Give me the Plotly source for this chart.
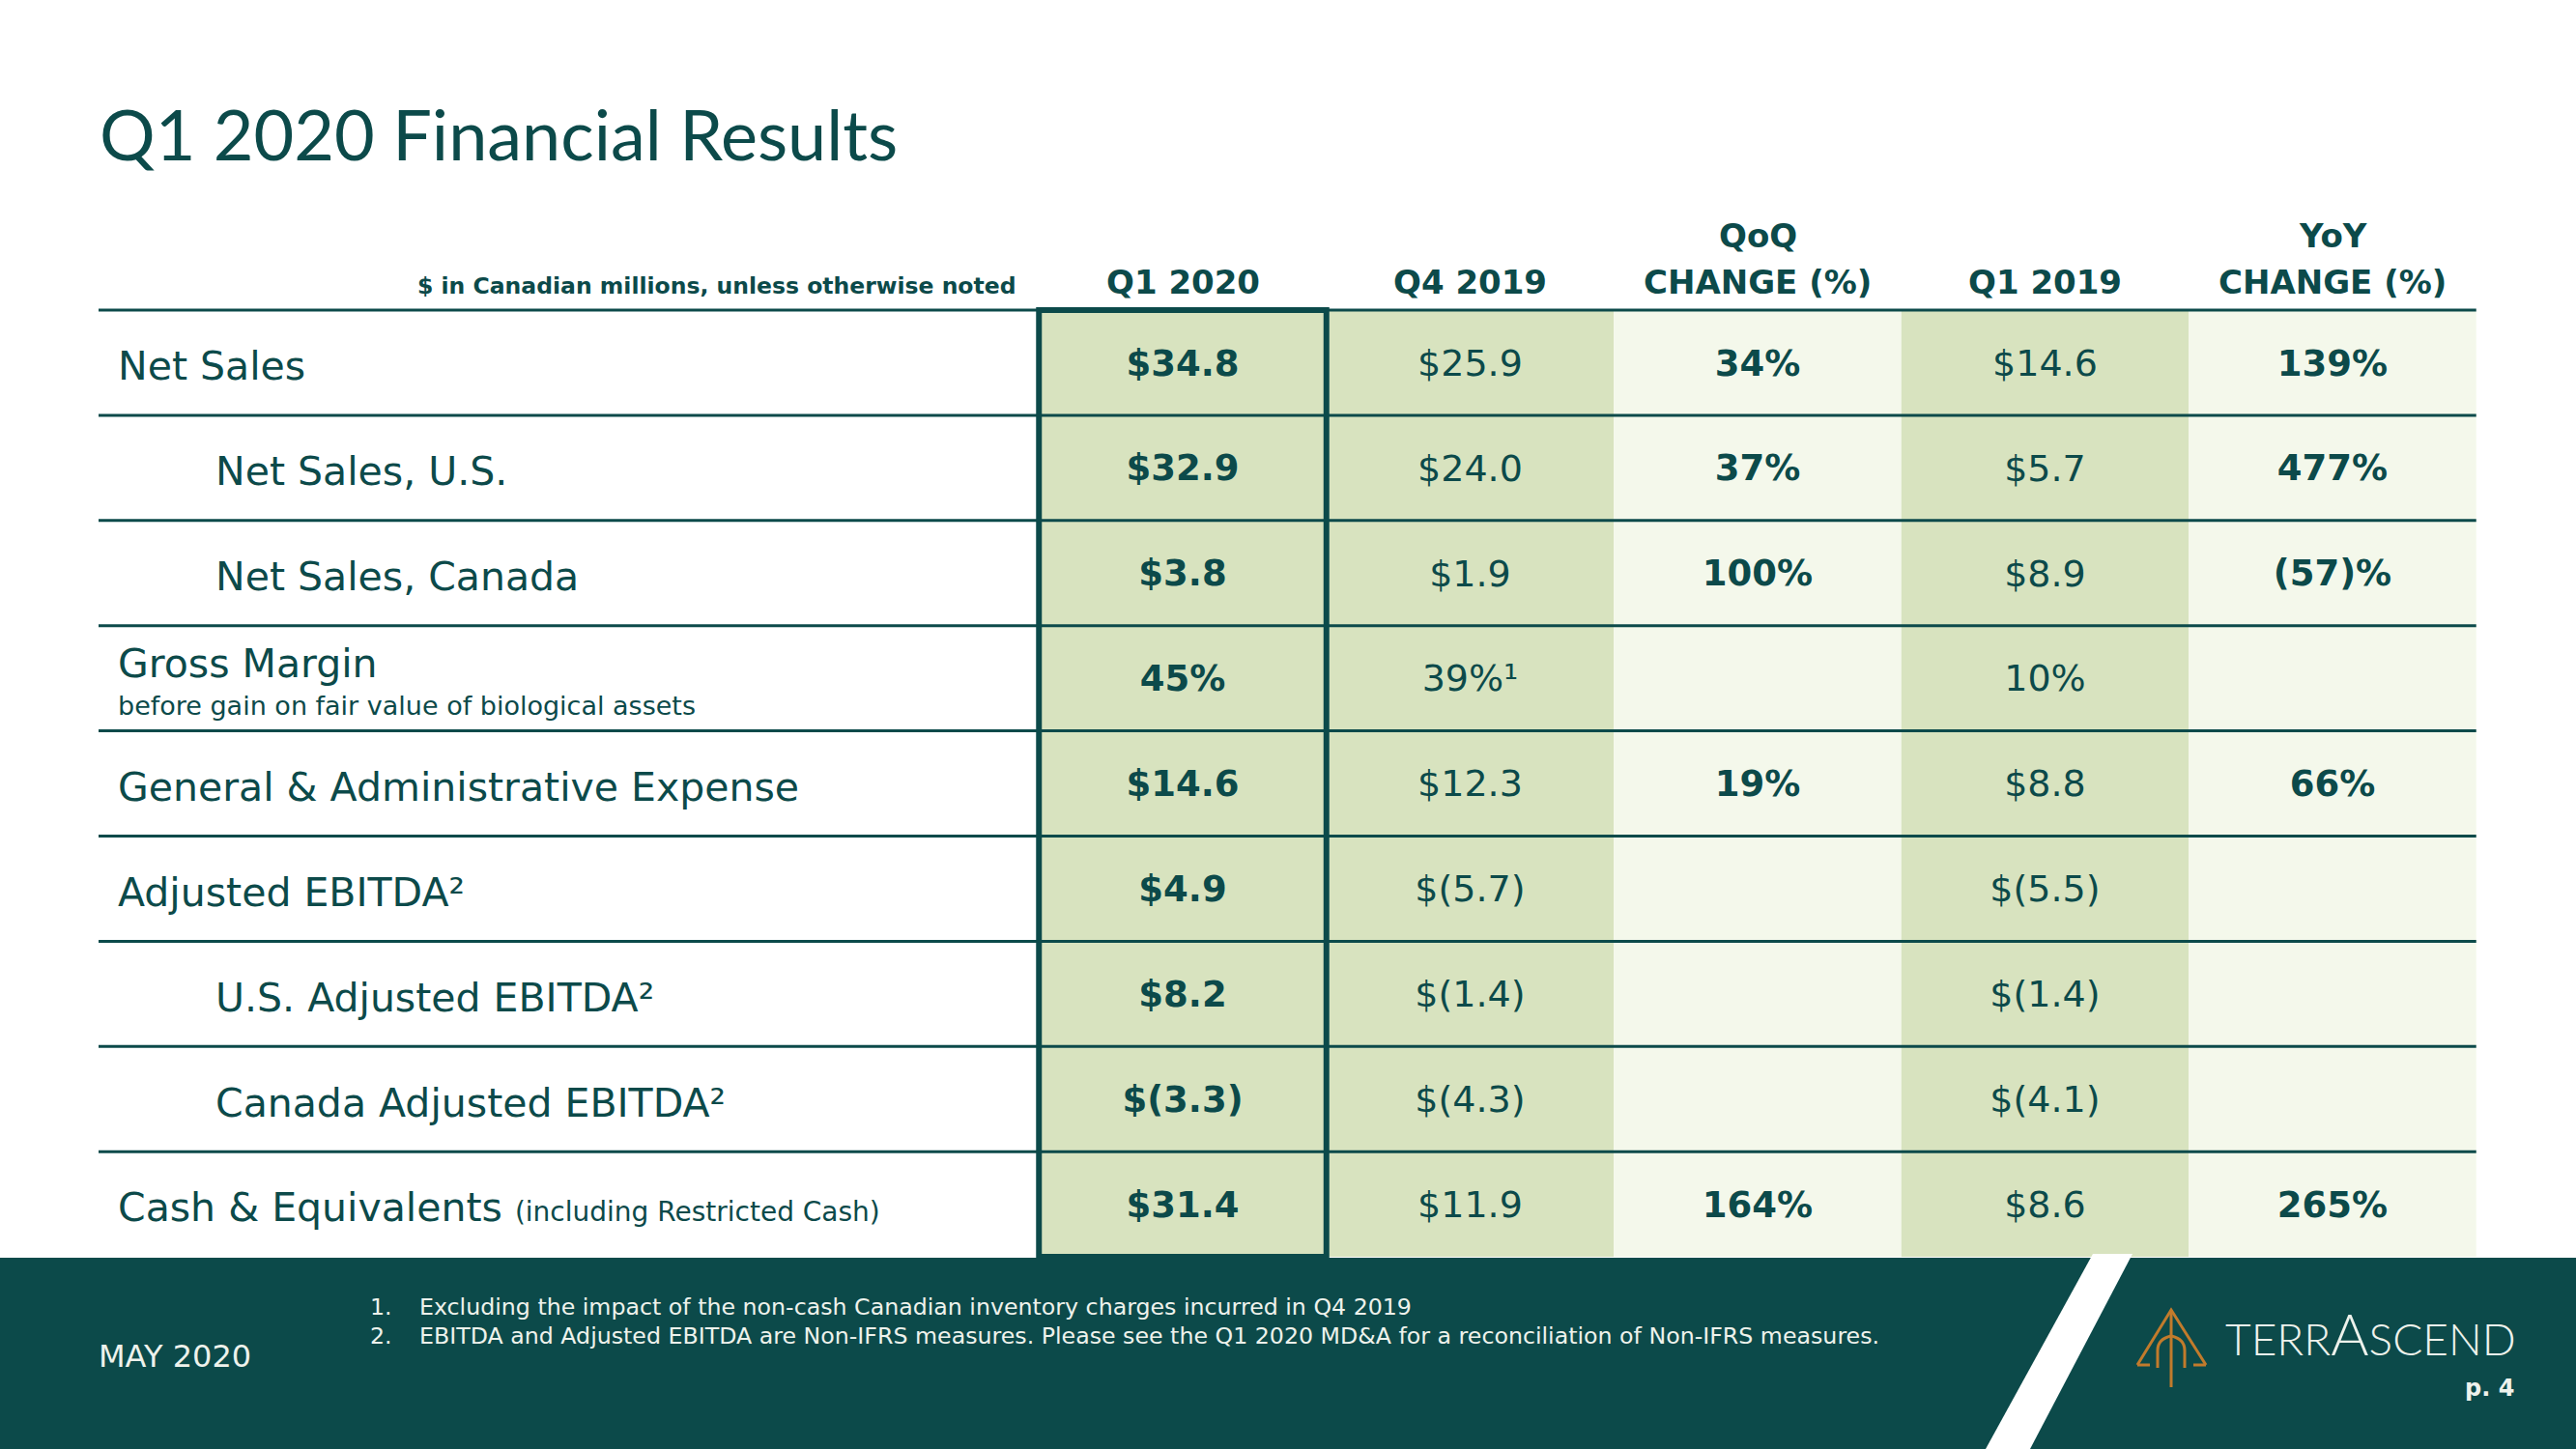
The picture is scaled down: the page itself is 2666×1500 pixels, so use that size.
import plotly.graph_objects as go

# ---------------- data ----------------
column_headers = ["Q1 2020", "Q4 2019", "QoQ<br>CHANGE (%)", "Q1 2019", "YoY<br>CHANGE (%)"]
column_bold = [True, False, True, False, True]
column_shaded = [True, True, False, True, False]

row_labels = ["Net Sales", "Net Sales, U.S.", "Net Sales, Canada", "Gross Margin",
              "General & Administrative Expense", "Adjusted EBITDA", "U.S. Adjusted EBITDA",
              "Canada Adjusted EBITDA", "Cash & Equivalents"]
row_indent = [0, 1, 1, 0, 0, 0, 1, 1, 0]
row_label_sup = ["", "", "", "", "", "2", "2", "2", ""]
row_label_suffix = ["", "", "", "", "", "", "", "", "(including Restricted Cash)"]
row_label_sub = ["", "", "", "before gain on fair value of biological assets", "", "", "", "", ""]

q1_2020 = ["$34.8", "$32.9", "$3.8", "45%", "$14.6", "$4.9", "$8.2", "$(3.3)", "$31.4"]
q4_2019 = ["$25.9", "$24.0", "$1.9", "39%", "$12.3", "$(5.7)", "$(1.4)", "$(4.3)", "$11.9"]
q4_2019_notes = ["", "", "", "1", "", "", "", "", ""]
qoq_change = ["34%", "37%", "100%", "", "19%", "", "", "", "164%"]
q1_2019 = ["$14.6", "$5.7", "$8.9", "10%", "$8.8", "$(5.5)", "$(1.4)", "$(4.1)", "$8.6"]
yoy_change = ["139%", "477%", "(57)%", "", "66%", "", "", "", "265%"]

footnotes = ["Excluding the impact of the non-cash Canadian inventory charges incurred in Q4 2019",
             "EBITDA and Adjusted EBITDA are Non-IFRS measures. Please see the Q1 2020 MD&A for a reconciliation of Non-IFRS measures."]

title_text = "Q1 2020 Financial Results"
units_note = "$ in Canadian millions, unless otherwise noted"
date_text = "MAY 2020"
page_text = "p. 4"

# ---------------- styling ----------------
W, H = 2666, 1500
TEAL = "#0C4A4A"
SAGE = "#D8E3BF"
LIGHT = "#F4F8EB"
ORANGE = "#C27B2C"
WHITE_T = "#EEF2EC"
BODY = "DejaVu Sans"
SUPER = {"1": "\u00b9", "2": "\u00b2"}

COL_W = 297.5
X_C0 = 1224.0
ROW_H = 108.9
Y_TOP = 321.0


def X(px):
    return (px - X_C0) / COL_W


def Y(py):
    return (py - Y_TOP) / ROW_H - 0.5


def PX(px):
    return px / W


def PY(py):
    return 1 - py / H


def ppath(cmds):
    out = []
    for c in cmds:
        if isinstance(c, str):
            out.append(c)
        else:
            out.append(f"{PX(c[0]):.5f},{PY(c[1]):.5f}")
    return " ".join(out)


n_rows = len(row_labels)
n_cols = len(column_headers)
q4_2019_text = [v + SUPER.get(n, "") for v, n in zip(q4_2019, q4_2019_notes)]
value_columns = [q1_2020, q4_2019_text, qoq_change, q1_2019, yoy_change]
TEXT_DY = 0.035  # small visual baseline nudge (row units)

fig = go.Figure()

# values (blank cells are skipped)
for i, vals in enumerate(value_columns):
    rows = [r for r, v in enumerate(vals) if v]
    fig.add_trace(go.Scatter(
        x=[i] * len(rows), y=[r + TEXT_DY for r in rows], mode="text", text=[vals[r] for r in rows],
        textposition="middle center",
        textfont=dict(family=BODY, size=37 if column_bold[i] else 38, color=TEAL,
                      weight="bold" if column_bold[i] else "normal"),
        hoverinfo="skip", showlegend=False))

shapes = []
# cell backgrounds
for i in range(n_cols):
    shapes.append(dict(type="rect", xref="x", yref="y", x0=i - 0.5, x1=i + 0.5,
                       y0=-0.5, y1=n_rows - 0.5, fillcolor=SAGE if column_shaded[i] else LIGHT,
                       line=dict(width=0), layer="below"))
# row lines
for r in range(n_rows):
    shapes.append(dict(type="line", xref="x", yref="y", x0=X(102), x1=n_cols - 0.5,
                       y0=r - 0.5, y1=r - 0.5, line=dict(color=TEAL, width=3), layer="below"))
# highlighted current quarter box
shapes.append(dict(type="rect", xref="x", yref="y", x0=-0.5, x1=0.5, y0=-0.5, y1=n_rows - 0.5,
                   line=dict(color=TEAL, width=6), fillcolor="rgba(0,0,0,0)", layer="below"))

# footer band
shapes.append(dict(type="rect", xref="paper", yref="paper", x0=0, x1=1, y0=0, y1=PY(1302),
                   fillcolor=TEAL, line=dict(width=0), layer="above"))
shapes.append(dict(type="path", xref="paper", yref="paper",
                   path=ppath(["M", (2166, 1298), "L", (2207, 1298), "L", (2101, 1500), "L", (2055, 1500), "Z"]),
                   fillcolor="white", line=dict(width=0), layer="above"))
# logo mark
logo_paths = [
    ["M", (2212, 1413), "L", (2247, 1356), "L", (2283, 1413)],
    ["M", (2212, 1413), "L", (2225, 1413)],
    ["M", (2270, 1413), "L", (2283, 1413)],
    ["M", (2247, 1356), "L", (2247, 1436)],
    ["M", (2233, 1416), "L", (2233, 1398), "Q", (2233, 1386), (2247, 1383)],
    ["M", (2261, 1416), "L", (2261, 1398), "Q", (2261, 1386), (2247, 1383)],
]
for p in logo_paths:
    shapes.append(dict(type="path", xref="paper", yref="paper", path=ppath(p),
                       line=dict(color=ORANGE, width=3), layer="above"))

annotations = []
# title
annotations.append(dict(xref="paper", yref="paper", x=PX(101), y=PY(138), xanchor="left", yanchor="middle",
                        text=title_text, showarrow=False, font=dict(family="Lato", size=72, color=TEAL)))
# units note
annotations.append(dict(xref="x", yref="y", x=X(1054), y=Y(296), xanchor="right", yanchor="middle",
                        text=units_note, showarrow=False,
                        font=dict(family=BODY, size=23.5, color=TEAL, weight="bold")))
# column headers (each line placed separately for the slide's line spacing)
for i, h in enumerate(column_headers):
    lines = h.split("<br>")
    for k, line in enumerate(reversed(lines)):
        annotations.append(dict(xref="x", yref="y", x=i, y=Y(314 - 48 * k), xanchor="center",
                                yanchor="bottom", text=line, showarrow=False,
                                font=dict(family=BODY, size=34, color=TEAL, weight="bold")))
# row labels
label_px = [120, 221]
for r, lab in enumerate(row_labels):
    txt = lab + SUPER.get(row_label_sup[r], "")
    if row_label_suffix[r]:
        txt += f" <span style='font-size:28px'>{row_label_suffix[r]}</span>"
    yy = r + TEXT_DY
    if row_label_sub[r]:
        yy = r - 0.142
        annotations.append(dict(xref="x", yref="y", x=X(label_px[row_indent[r]]), y=r + 0.262,
                                xanchor="left", yanchor="middle", text=row_label_sub[r], showarrow=False,
                                font=dict(family=BODY, size=27, color=TEAL)))
    annotations.append(dict(xref="x", yref="y", x=X(label_px[row_indent[r]]), y=yy,
                            xanchor="left", yanchor="middle", text=txt, showarrow=False,
                            font=dict(family=BODY, size=41, color=TEAL)))
# footnotes
for k, note in enumerate(footnotes):
    yy = PY(1353 + 30 * k)
    annotations.append(dict(xref="paper", yref="paper", x=PX(381), y=yy, xanchor="left", yanchor="middle",
                            text=f"{k + 1}.", showarrow=False, font=dict(family=BODY, size=23.7, color=WHITE_T)))
    annotations.append(dict(xref="paper", yref="paper", x=PX(432), y=yy, xanchor="left", yanchor="middle",
                            text=note, showarrow=False, font=dict(family=BODY, size=23.7, color=WHITE_T)))
# date
annotations.append(dict(xref="paper", yref="paper", x=PX(100), y=PY(1404), xanchor="left", yanchor="middle",
                        text=date_text, showarrow=False, font=dict(family=BODY, size=32, color=WHITE_T)))
# logo text
annotations.append(dict(xref="paper", yref="paper", x=PX(2301), y=PY(1418), xanchor="left", yanchor="bottom",
                        text="TERR<span style='font-size:60px'>A</span>SCEND", showarrow=False,
                        font=dict(family="Lato", size=46, color=WHITE_T, weight=300)))
# page number
annotations.append(dict(xref="paper", yref="paper", x=PX(2604), y=PY(1437), xanchor="right", yanchor="middle",
                        text=page_text, showarrow=False,
                        font=dict(family=BODY, size=24, color=WHITE_T, weight="bold")))

fig.update_layout(
    width=W, height=H, margin=dict(l=0, r=0, t=0, b=0),
    paper_bgcolor="white", plot_bgcolor="rgba(0,0,0,0)",
    xaxis=dict(range=[X(0), X(W)], visible=False, fixedrange=True),
    yaxis=dict(range=[Y(H), Y(0)], visible=False, fixedrange=True),
    shapes=shapes, annotations=annotations, showlegend=False, hovermode=False,
)

fig.write_html("out.html", config={"displayModeBar": False},
               post_script="document.body.style.margin='0';")
